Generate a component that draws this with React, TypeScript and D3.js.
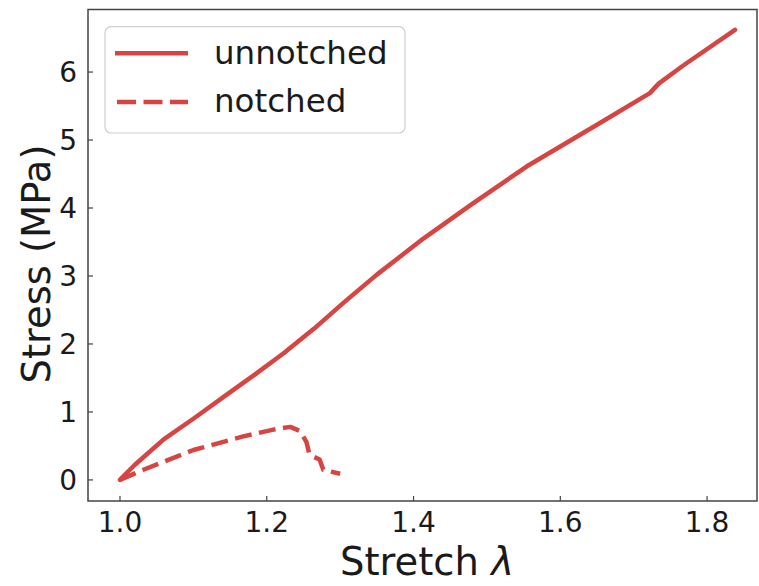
import React from "react";
import * as d3 from "d3";

const unnotchedStretch = [1.0, 1.008, 1.02, 1.04, 1.06, 1.1, 1.145, 1.185, 1.2225, 1.265, 1.304, 1.35, 1.4134, 1.48, 1.554, 1.654, 1.722, 1.734, 1.768, 1.838];
const unnotchedStress = [0, 0.09, 0.22, 0.41, 0.6, 0.9, 1.25, 1.56, 1.86, 2.23, 2.6, 3.02, 3.55, 4.06, 4.61, 5.25, 5.69, 5.83, 6.1, 6.62];

const notchedStretch = [1.0, 1.032, 1.1, 1.168, 1.209, 1.232, 1.245, 1.254, 1.258, 1.264, 1.272, 1.277, 1.3];
const notchedStress = [0, 0.15, 0.44, 0.64, 0.74, 0.78, 0.72, 0.56, 0.38, 0.34, 0.3, 0.15, 0.09];

const xTicks = [1.0, 1.2, 1.4, 1.6, 1.8];
const yTicks = [0, 1, 2, 3, 4, 5, 6];
const seriesNames = ["unnotched", "notched"];

const W = 759;
const H = 586;
const left = 88;
const right = 757;
const top = 9.5;
const bottom = 501;
const color = "#d64541";
const font = "DejaVu Sans, sans-serif";

export default function App() {
  const x = d3.scaleLinear().domain([0.9564, 1.868]).range([left, right]);
  const y = d3.scaleLinear().domain([-0.31, 6.92]).range([bottom, top]);
  const line = d3
    .line<[number, number]>()
    .x((d) => x(d[0]))
    .y((d) => y(d[1]));
  const uData = unnotchedStretch.map((v, i) => [v, unnotchedStress[i]] as [number, number]);
  const nData = notchedStretch.map((v, i) => [v, notchedStress[i]] as [number, number]);

  return (
    <svg
      width={W}
      height={H}
      style={{ position: "absolute", left: 0, top: 0, background: "#fff" }}
      fontFamily={font}
    >
      <rect x={0} y={0} width={W} height={H} fill="#fff" />
      <defs>
        <clipPath id="plot">
          <rect x={left} y={top} width={right - left} height={bottom - top} />
        </clipPath>
      </defs>
      <g clipPath="url(#plot)">
        <path d={line(uData) || ""} fill="none" stroke={color} strokeWidth={4.5} strokeLinejoin="round" strokeLinecap="round" />
        <path d={line(nData) || ""} fill="none" stroke={color} strokeWidth={4.5} strokeDasharray="17,7.5" strokeLinejoin="round" />
      </g>
      {/* spines */}
      <rect x={left} y={top} width={right - left} height={bottom - top} fill="none" stroke="#444" strokeWidth={1.5} />
      {/* x ticks */}
      {xTicks.map((t) => (
        <g key={"x" + t}>
          <line x1={x(t)} x2={x(t)} y1={bottom} y2={bottom - 5} stroke="#444" strokeWidth={1.2} />
          <text x={x(t)} y={532} textAnchor="middle" fontSize={28} fill="#1a1a1a">
            {t.toFixed(1)}
          </text>
        </g>
      ))}
      {/* y ticks */}
      {yTicks.map((t) => (
        <g key={"y" + t}>
          <line x1={left} x2={left + 5} y1={y(t)} y2={y(t)} stroke="#444" strokeWidth={1.2} />
          <text x={77} y={y(t) + 10} textAnchor="end" fontSize={28} fill="#1a1a1a">
            {t}
          </text>
        </g>
      ))}
      {/* axis labels */}
      <text x={427} y={575} textAnchor="middle" fontSize={38.5} fill="#1a1a1a">
        Stretch <tspan fontStyle="italic">λ</tspan>
      </text>
      <text transform={`translate(50,264) rotate(-90)`} textAnchor="middle" fontSize={38.5} fill="#1a1a1a">
        Stress (MPa)
      </text>
      {/* legend */}
      <rect x={105} y={26.7} width={300} height={106.3} rx={6} ry={6} fill="#fff" fillOpacity={0.85} stroke="#d0d0d0" strokeWidth={1.2} />
      <line x1={115} x2={188} y1={53.3} y2={53.3} stroke={color} strokeWidth={4.5} />
      <line x1={117} x2={188} y1={102} y2={102} stroke={color} strokeWidth={4.5} strokeDasharray="19,7.5" />
      <text x={214} y={63.5} fontSize={32.5} fill="#1a1a1a">
        {seriesNames[0]}
      </text>
      <text x={214} y={112.3} fontSize={32.5} fill="#1a1a1a">
        {seriesNames[1]}
      </text>
    </svg>
  );
}
